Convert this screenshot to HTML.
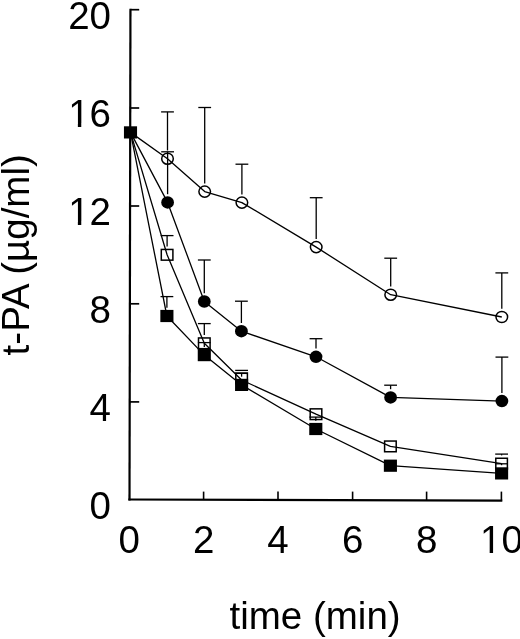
<!DOCTYPE html>
<html><head><meta charset="utf-8"><style>
html,body{margin:0;padding:0;background:#fff;}
body{width:520px;height:639px;overflow:hidden;}
svg{display:block;}
text{font-family:"Liberation Sans",Arial,Helvetica,sans-serif;font-size:38.5px;fill:#000;}
</style></head><body>
<svg width="520" height="639" viewBox="0 0 520 639">
<rect width="520" height="639" fill="#fff"/>
<path d="M130.45 8.7 L129.5 500.6" fill="none" stroke="#000" stroke-width="2.2"/><path d="M128.4 499.5 L502.3 500.6" fill="none" stroke="#000" stroke-width="2.1"/>
<line x1="130.45" y1="9.7" x2="139.2" y2="9.7" stroke="#000" stroke-width="1.7"/>
<line x1="130.25" y1="108" x2="139.2" y2="108" stroke="#000" stroke-width="1.7"/>
<line x1="130.1" y1="206" x2="139.2" y2="206" stroke="#000" stroke-width="1.7"/>
<line x1="129.9" y1="303.8" x2="139.2" y2="303.8" stroke="#000" stroke-width="1.7"/>
<line x1="129.7" y1="401.9" x2="139.2" y2="401.9" stroke="#000" stroke-width="1.7"/>
<line x1="203.6" y1="499.8" x2="203.6" y2="491.6" stroke="#000" stroke-width="1.6"/>
<line x1="278" y1="500" x2="278" y2="491.6" stroke="#000" stroke-width="1.6"/>
<line x1="352.6" y1="500.2" x2="352.6" y2="491.6" stroke="#000" stroke-width="1.6"/>
<line x1="426.6" y1="500.4" x2="426.6" y2="491.6" stroke="#000" stroke-width="1.6"/>
<line x1="501.4" y1="500.6" x2="501.4" y2="491.6" stroke="#000" stroke-width="1.6"/>
<polyline points="130.5,132.4 167.5,158.7 204.7,191.6 241.9,202.6 316.2,247.1 390.7,294.7 501.8,317" fill="none" stroke="#000" stroke-width="1.3" stroke-linejoin="round"/>
<polyline points="130.5,132.4 167.6,202.4 204.3,301.5 241.4,331.2 316,356.8 390.6,397.4 501.9,401.1" fill="none" stroke="#000" stroke-width="1.3" stroke-linejoin="round"/>
<polyline points="130.5,132.4 167.1,254.8 204.3,343.3 241.6,380 316,414.2 390.4,446.4 501.6,463.6" fill="none" stroke="#000" stroke-width="1.3" stroke-linejoin="round"/>
<polyline points="130.5,132.4 166.9,316 204.3,355.1 241.6,384.9 315.8,429 390.4,465.7 501.6,473.4" fill="none" stroke="#000" stroke-width="1.3" stroke-linejoin="round"/>
<line x1="167.5" y1="150.5" x2="167.5" y2="111.9" stroke="#000" stroke-width="1.3"/><line x1="161.1" y1="111.9" x2="173.9" y2="111.9" stroke="#000" stroke-width="1.3"/>
<line x1="204.7" y1="183.4" x2="204.7" y2="107.5" stroke="#000" stroke-width="1.3"/><line x1="198.3" y1="107.5" x2="211.1" y2="107.5" stroke="#000" stroke-width="1.3"/>
<line x1="241.9" y1="194.4" x2="241.9" y2="164.2" stroke="#000" stroke-width="1.3"/><line x1="235.5" y1="164.2" x2="248.3" y2="164.2" stroke="#000" stroke-width="1.3"/>
<line x1="316.2" y1="238.9" x2="316.2" y2="197.7" stroke="#000" stroke-width="1.3"/><line x1="309.8" y1="197.7" x2="322.6" y2="197.7" stroke="#000" stroke-width="1.3"/>
<line x1="390.7" y1="286.5" x2="390.7" y2="258.2" stroke="#000" stroke-width="1.3"/><line x1="384.3" y1="258.2" x2="397.1" y2="258.2" stroke="#000" stroke-width="1.3"/>
<line x1="501.8" y1="308.8" x2="501.8" y2="272.9" stroke="#000" stroke-width="1.3"/><line x1="495.4" y1="272.9" x2="508.2" y2="272.9" stroke="#000" stroke-width="1.3"/>
<line x1="167.6" y1="194.2" x2="167.6" y2="151.8" stroke="#000" stroke-width="1.3"/><line x1="161.2" y1="151.8" x2="174" y2="151.8" stroke="#000" stroke-width="1.3"/>
<line x1="204.3" y1="293.3" x2="204.3" y2="260" stroke="#000" stroke-width="1.3"/><line x1="197.9" y1="260" x2="210.7" y2="260" stroke="#000" stroke-width="1.3"/>
<line x1="241.4" y1="323" x2="241.4" y2="301.2" stroke="#000" stroke-width="1.3"/><line x1="235" y1="301.2" x2="247.8" y2="301.2" stroke="#000" stroke-width="1.3"/>
<line x1="316" y1="348.6" x2="316" y2="338.7" stroke="#000" stroke-width="1.3"/><line x1="309.6" y1="338.7" x2="322.4" y2="338.7" stroke="#000" stroke-width="1.3"/>
<line x1="390.6" y1="389.2" x2="390.6" y2="385.2" stroke="#000" stroke-width="1.3"/><line x1="384.2" y1="385.2" x2="397" y2="385.2" stroke="#000" stroke-width="1.3"/>
<line x1="501.9" y1="392.9" x2="501.9" y2="357.1" stroke="#000" stroke-width="1.3"/><line x1="495.5" y1="357.1" x2="508.3" y2="357.1" stroke="#000" stroke-width="1.3"/>
<line x1="167.1" y1="246.6" x2="167.1" y2="235.6" stroke="#000" stroke-width="1.3"/><line x1="160.7" y1="235.6" x2="173.5" y2="235.6" stroke="#000" stroke-width="1.3"/>
<line x1="204.3" y1="335.1" x2="204.3" y2="323.6" stroke="#000" stroke-width="1.3"/><line x1="197.9" y1="323.6" x2="210.7" y2="323.6" stroke="#000" stroke-width="1.3"/>
<line x1="235.2" y1="370.4" x2="248" y2="370.4" stroke="#000" stroke-width="1.3"/>
<line x1="501.6" y1="455.4" x2="501.6" y2="454.1" stroke="#000" stroke-width="1.3"/><line x1="495.2" y1="454.1" x2="508" y2="454.1" stroke="#000" stroke-width="1.3"/>
<line x1="166.9" y1="307.8" x2="166.9" y2="296.6" stroke="#000" stroke-width="1.3"/><line x1="160.5" y1="296.6" x2="173.3" y2="296.6" stroke="#000" stroke-width="1.3"/>
<line x1="204.3" y1="346.9" x2="204.3" y2="342.6" stroke="#000" stroke-width="1.3"/><line x1="197.9" y1="342.6" x2="210.7" y2="342.6" stroke="#000" stroke-width="1.3"/>
<line x1="241.6" y1="376.7" x2="241.6" y2="373.4" stroke="#000" stroke-width="1.3"/><line x1="235.2" y1="373.4" x2="248" y2="373.4" stroke="#000" stroke-width="1.3"/>
<line x1="315.8" y1="420.8" x2="315.8" y2="417.1" stroke="#000" stroke-width="1.3"/><line x1="309.4" y1="417.1" x2="322.2" y2="417.1" stroke="#000" stroke-width="1.3"/>
<line x1="501.6" y1="465.2" x2="501.6" y2="463.8" stroke="#000" stroke-width="1.3"/><line x1="495.2" y1="463.8" x2="508" y2="463.8" stroke="#000" stroke-width="1.3"/>
<ellipse cx="167.5" cy="158.7" rx="5.8" ry="5.55" fill="none" stroke="#000" stroke-width="1.5"/>
<ellipse cx="204.7" cy="191.6" rx="5.8" ry="5.55" fill="none" stroke="#000" stroke-width="1.5"/>
<ellipse cx="241.9" cy="202.6" rx="5.8" ry="5.55" fill="none" stroke="#000" stroke-width="1.5"/>
<ellipse cx="316.2" cy="247.1" rx="5.8" ry="5.55" fill="none" stroke="#000" stroke-width="1.5"/>
<ellipse cx="390.7" cy="294.7" rx="5.8" ry="5.55" fill="none" stroke="#000" stroke-width="1.5"/>
<ellipse cx="501.8" cy="317" rx="5.8" ry="5.55" fill="none" stroke="#000" stroke-width="1.5"/>
<ellipse cx="167.6" cy="202.4" rx="6.4" ry="6.25" fill="#000"/>
<ellipse cx="204.3" cy="301.5" rx="6.4" ry="6.25" fill="#000"/>
<ellipse cx="241.4" cy="331.2" rx="6.4" ry="6.25" fill="#000"/>
<ellipse cx="316" cy="356.8" rx="6.4" ry="6.25" fill="#000"/>
<ellipse cx="390.6" cy="397.4" rx="6.4" ry="6.25" fill="#000"/>
<ellipse cx="501.9" cy="401.1" rx="6.4" ry="6.25" fill="#000"/>
<rect x="161.3" y="249.45" width="11.6" height="10.7" fill="none" stroke="#000" stroke-width="1.5"/>
<rect x="198.5" y="337.95" width="11.6" height="10.7" fill="none" stroke="#000" stroke-width="1.5"/>
<rect x="235.8" y="373.05" width="11.6" height="10.7" fill="none" stroke="#000" stroke-width="1.5"/>
<rect x="310.2" y="408.85" width="11.6" height="10.7" fill="none" stroke="#000" stroke-width="1.5"/>
<rect x="384.6" y="441.05" width="11.6" height="10.7" fill="none" stroke="#000" stroke-width="1.5"/>
<rect x="495.8" y="458.25" width="11.6" height="10.7" fill="none" stroke="#000" stroke-width="1.5"/>
<rect x="160.35" y="309.9" width="13.1" height="12.2" fill="#000"/>
<rect x="197.75" y="349" width="13.1" height="12.2" fill="#000"/>
<rect x="235.05" y="378.8" width="13.1" height="12.2" fill="#000"/>
<rect x="309.25" y="422.9" width="13.1" height="12.2" fill="#000"/>
<rect x="383.85" y="459.6" width="13.1" height="12.2" fill="#000"/>
<rect x="495.05" y="467.3" width="13.1" height="12.2" fill="#000"/>
<rect x="123.95" y="126.3" width="13.1" height="12.2" fill="#000"/>
<text x="111" y="28.9" text-anchor="end">20</text>
<text x="111" y="126.9" text-anchor="end">16</text>
<text x="111" y="224.9" text-anchor="end">12</text>
<text x="111" y="322.9" text-anchor="end">8</text>
<text x="111" y="420.7" text-anchor="end">4</text>
<text x="111" y="518.9" text-anchor="end">0</text>
<text x="129.1" y="553.2" text-anchor="middle">0</text>
<text x="203.6" y="553.2" text-anchor="middle">2</text>
<text x="278" y="553.2" text-anchor="middle">4</text>
<text x="352.6" y="553.2" text-anchor="middle">6</text>
<text x="426.6" y="553.2" text-anchor="middle">8</text>
<text x="501.4" y="553.2" text-anchor="middle">10</text>
<text x="315.1" y="629.2" text-anchor="middle">time (min)</text>
<rect x="69.91" y="123.67" width="7.95" height="4.08" fill="#fff"/>
<rect x="81.26" y="123.67" width="7.05" height="4.08" fill="#fff"/>
<rect x="69.91" y="221.67" width="7.95" height="4.08" fill="#fff"/>
<rect x="81.26" y="221.67" width="7.05" height="4.08" fill="#fff"/>
<rect x="481.72" y="549.97" width="7.95" height="4.08" fill="#fff"/>
<rect x="493.07" y="549.97" width="7.05" height="4.08" fill="#fff"/>
<text transform="translate(29.2 254.8) rotate(-90)" x="0" y="0" text-anchor="middle">t-PA (µg/ml)</text>
</svg>
</body></html>
